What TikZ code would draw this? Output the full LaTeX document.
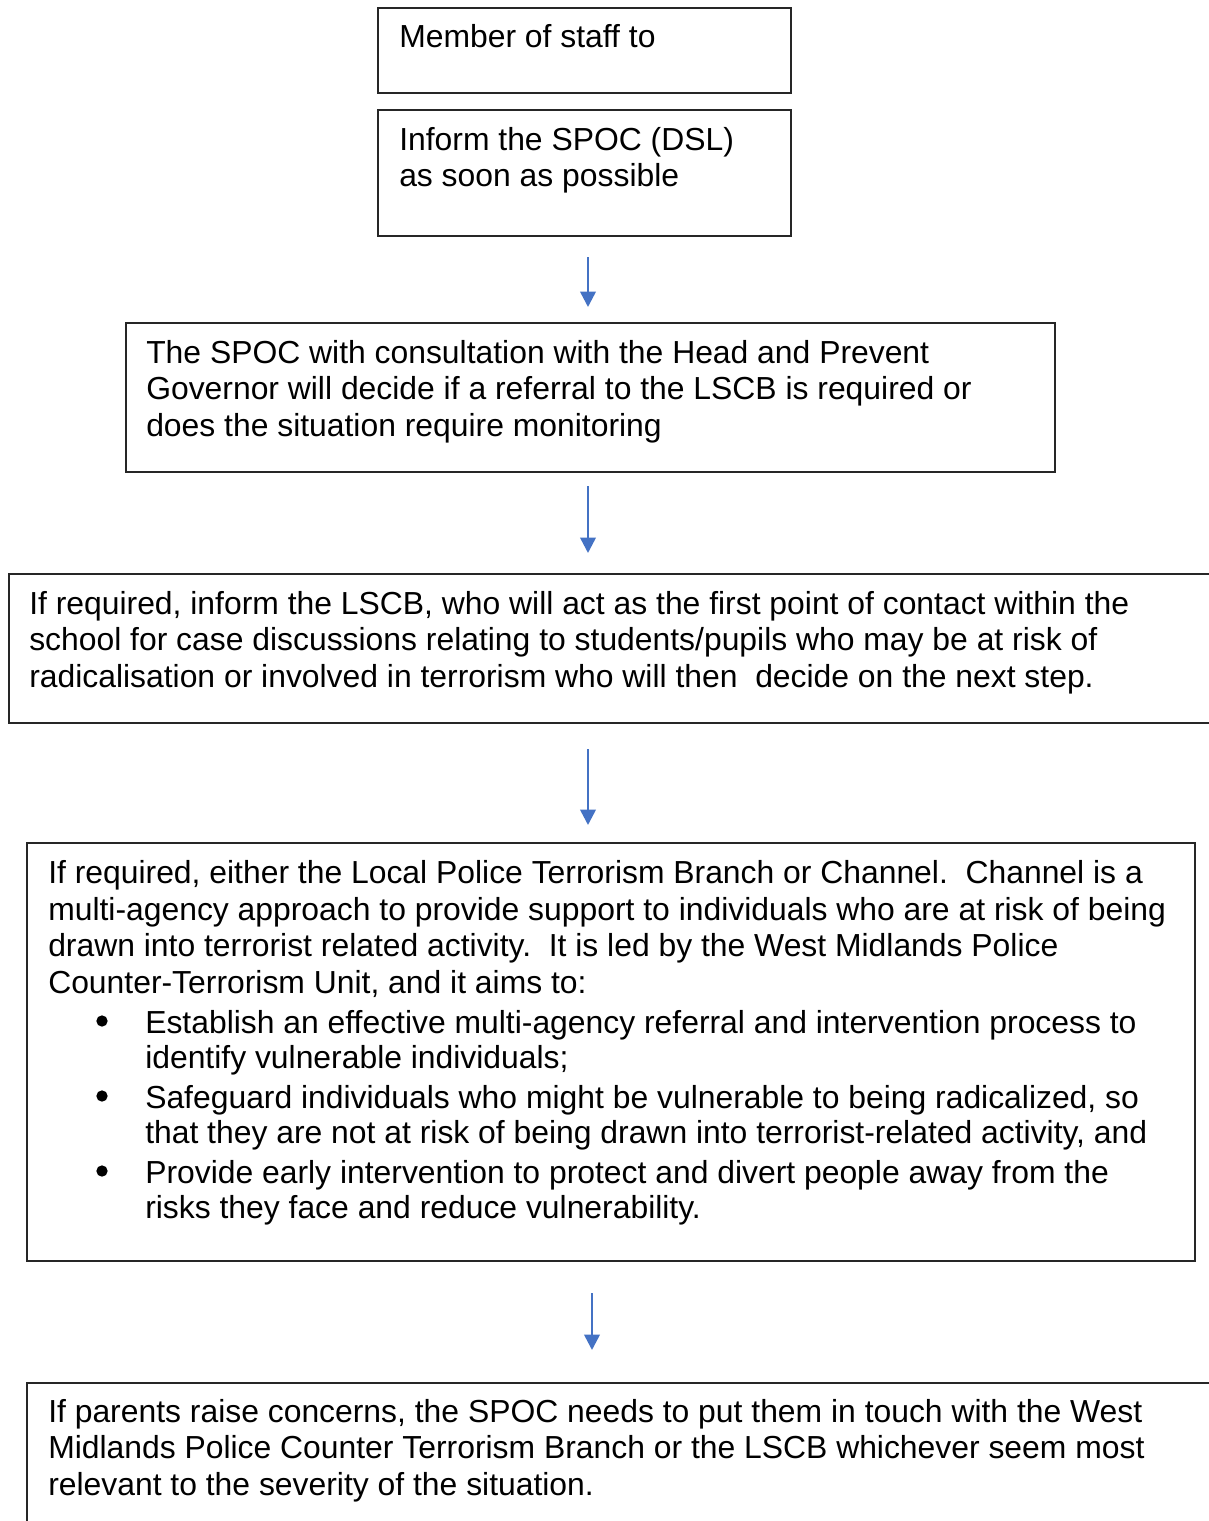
\documentclass[tikz,border=0pt]{standalone}
\usepackage{fontspec}
\setmainfont{Liberation Sans}
\usetikzlibrary{arrows.meta,fit}
\definecolor{arrowblue}{RGB}{68,114,196}
\begin{document}
\begin{tikzpicture}[x=0.75pt,y=-0.75pt,
  box/.style={draw=black!85, line width=0.9pt, inner sep=0pt},
  txt/.style={anchor=base west, inner sep=0pt, align=left, font=\fontsize{23.9}{27.3}\selectfont},
  itemtxt/.style={anchor=base west, inner sep=0pt, align=left, font=\fontsize{23.9}{26.6}\selectfont},
  dot/.style={circle, fill=black, inner sep=0pt, minimum size=8.5pt},
  flow/.style={draw=arrowblue, line width=1.9pt, -{Triangle[length=11.5pt,width=11.5pt,fill=arrowblue]}}]
\useasboundingbox (0,0) rectangle (1209,1521);
\clip (0,0) rectangle (1209,1521);
\fill[white] (0,0) rectangle (1209,1521);
% boxes
\node[box, fit={(378,8) (791,93)}] (b1) {};
\node[box, fit={(378,110) (791,236)}] (b2) {};
\node[box, fit={(126,323) (1055,472)}] (b3) {};
\node[box, fit={(9,574) (1240,723)}] (b4) {};
\node[box, fit={(27,843) (1195,1261)}] (b5) {};
\node[box, fit={(27,1383) (1240,1560)}] (b6) {};
% texts (anchored at the baseline of the last line)
\node[txt] (t1) at (399,47) {Member of staff to};
\node[txt] (t2) at (399,186.5) {Inform the SPOC (DSL)\\as soon as possible};
\node[txt] (t3) at (146,436) {The SPOC with consultation with the Head and Prevent\\Governor will decide if a referral to the LSCB is required or\\does the situation require monitoring};
\node[txt] (t4) at (29,687) {If required, inform the LSCB, who will act as the first point of contact within the\\school for case discussions relating to students/pupils who may be at risk of\\radicalisation or involved in terrorism who will then\ \ decide on the next step.};
\node[txt] (t5) at (48,993) {If required, either the Local Police Terrorism Branch or Channel.\ \ Channel is a\\multi-agency approach to provide support to individuals who are at risk of being\\drawn into terrorist related activity.\ \ It is led by the West Midlands Police\\Counter-Terrorism Unit, and it aims to:};
\node[dot] (d1) at (102,1021) {};
\node[itemtxt] (i1) at (145,1068.5) {Establish an effective multi-agency referral and intervention process to\\identify vulnerable individuals;};
\node[dot] (d2) at (102,1096) {};
\node[itemtxt] (i2) at (145,1143.5) {Safeguard individuals who might be vulnerable to being radicalized, so\\that they are not at risk of being drawn into terrorist-related activity, and};
\node[dot] (d3) at (102,1171) {};
\node[itemtxt] (i3) at (145,1218.5) {Provide early intervention to protect and divert people away from the\\risks they face and reduce vulnerability.};
\node[txt] (t6) at (48,1495) {If parents raise concerns, the SPOC needs to put them in touch with the West\\Midlands Police Counter Terrorism Branch or the LSCB whichever seem most\\relevant to the severity of the situation.};
% arrows
\coordinate (a1s) at (588,257); \coordinate (a1e) at (588,307);
\coordinate (a2s) at (588,486); \coordinate (a2e) at (588,553);
\coordinate (a3s) at (588,749); \coordinate (a3e) at (588,825);
\coordinate (a4s) at (592,1293); \coordinate (a4e) at (592,1350);
\draw[flow] (a1s) -- (a1e);
\draw[flow] (a2s) -- (a2e);
\draw[flow] (a3s) -- (a3e);
\draw[flow] (a4s) -- (a4e);
\end{tikzpicture}
\end{document}
